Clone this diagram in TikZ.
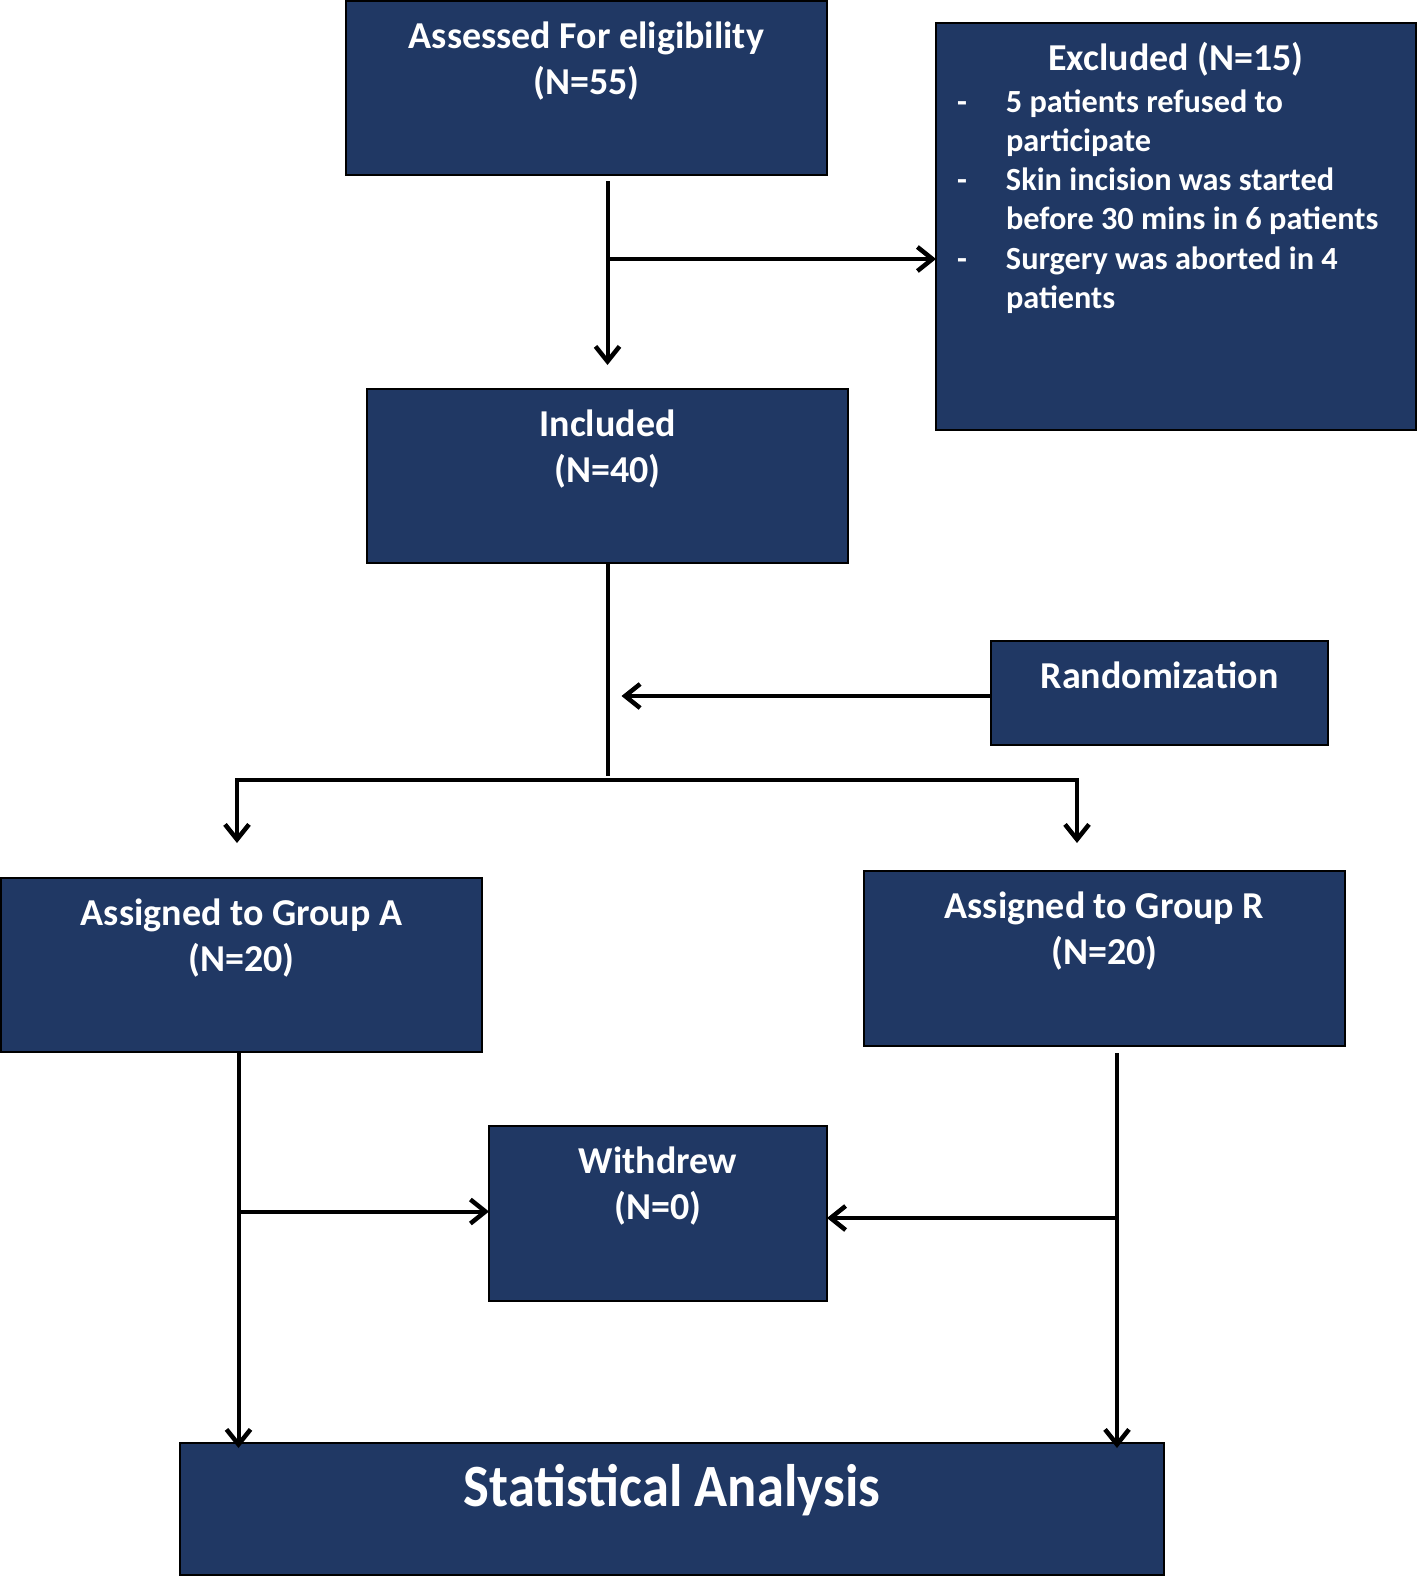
\documentclass[tikz,border=0pt]{standalone}
\usepackage{fontspec}
\usepackage{graphicx}
\setmainfont{Carlito}
\usetikzlibrary{arrows.meta,calc}
\definecolor{navy}{RGB}{32,56,100}
\newcommand\boxtxt[3]{\parbox[t][#2pt][t]{#1pt}{\centering\fontsize{38}{46}\selectfont\rule{0pt}{47pt}#3}}
\begin{document}
\begin{tikzpicture}[x=1pt,y=-1pt,
  blk/.style={draw=black,line width=2pt,fill=navy,text=white,inner sep=0pt,outer sep=0pt,anchor=north west,font=\bfseries},
  arr/.style={line width=4pt,-{Straight Barb[length=15pt,width=24pt,line width=4.5pt]}},
  ln/.style={line width=4pt}]
\useasboundingbox (0,0) rectangle (1417,1577);
\node[blk] (ass) at (346,1) {\boxtxt{481}{174}{Assessed For eligibility\\(N=55)}};
\node[blk] (exc) at (936,23) {\parbox[t][407pt][t]{480pt}{%
  {\centering\fontsize{38}{42}\selectfont\rule{0pt}{47pt}Excluded (N=15)\par}%
  \vspace{2.7pt}%
  {\raggedright\parindent=0pt\fontsize{32.3}{39.3}\selectfont
  \hspace*{21pt}\makebox[49pt][l]{-}5 patients refused to\\
  \hspace*{70pt}participate\\
  \hspace*{21pt}\makebox[49pt][l]{-}Skin incision was started\\
  \hspace*{70pt}before 30 mins in 6 patients\\
  \hspace*{21pt}\makebox[49pt][l]{-}Surgery was aborted in 4\\
  \hspace*{70pt}patients\par}}};
\node[blk] (inc) at (367,389) {\boxtxt{481}{174}{Included\\(N=40)}};
\node[blk] (rand) at (991,641) {\boxtxt{337}{104}{Randomization}};
\node[blk] (ga) at (1,878) {\boxtxt{481}{174}{Assigned to Group A\\(N=20)}};
\node[blk] (gr) at (864,871) {\boxtxt{481}{175}{Assigned to Group R\\(N=20)}};
\node[blk] (wd) at (489,1126) {\boxtxt{338}{175}{Withdrew\\(N=0)}};
\node[blk] (stat) at (180,1443) {\parbox[t][132pt][t]{984pt}{\centering\fontsize{60}{70}\selectfont\rule{0pt}{63pt}\scalebox{0.91}[1]{Statistical Analysis}}};
% connectors
\coordinate (t1) at ($(ass.south -| inc.north)+(0,6)$);
\draw[arr] (t1) -- ($(inc.north)+(0,-24)$);
\coordinate (j1) at (inc.north |- 0,259);
\draw[arr] (j1) -- (j1 -| exc.west);
\coordinate (j2) at (inc.south |- 0,776);
\draw[ln] (inc.south) -- (j2);
\draw[arr] ($(rand.west)+(0,3)$) -- ($(inc.south |- rand.west)+(14,3)$);
\coordinate (bl) at (237,780);
\coordinate (br) at (1077,780);
\draw[ln] ($(bl)+(-2,0)$) -- ($(br)+(2,0)$);
\draw[arr] (bl) -- ($(ga.north -| bl)+(0,-35)$);
\draw[arr] (br) -- ($(gr.north -| br)+(0,-28)$);
\draw[arr] ($(ga.south)+(-3,0)$) -- ($(ga.south |- stat.north)+(-3,5)$);
\coordinate (ja) at ($(ga.south |- wd.west)+(-3,-2)$);
\draw[arr] (ja) -- (ja -| wd.west);
\draw[arr] ($(gr.south)+(12.5,7)$) -- ($(gr.south |- stat.north)+(12.5,5)$);
\coordinate (jr) at ($(gr.south |- wd.east)+(12.5,4.5)$);
\draw[arr] (jr) -- (jr -| wd.east);
\end{tikzpicture}
\end{document}
